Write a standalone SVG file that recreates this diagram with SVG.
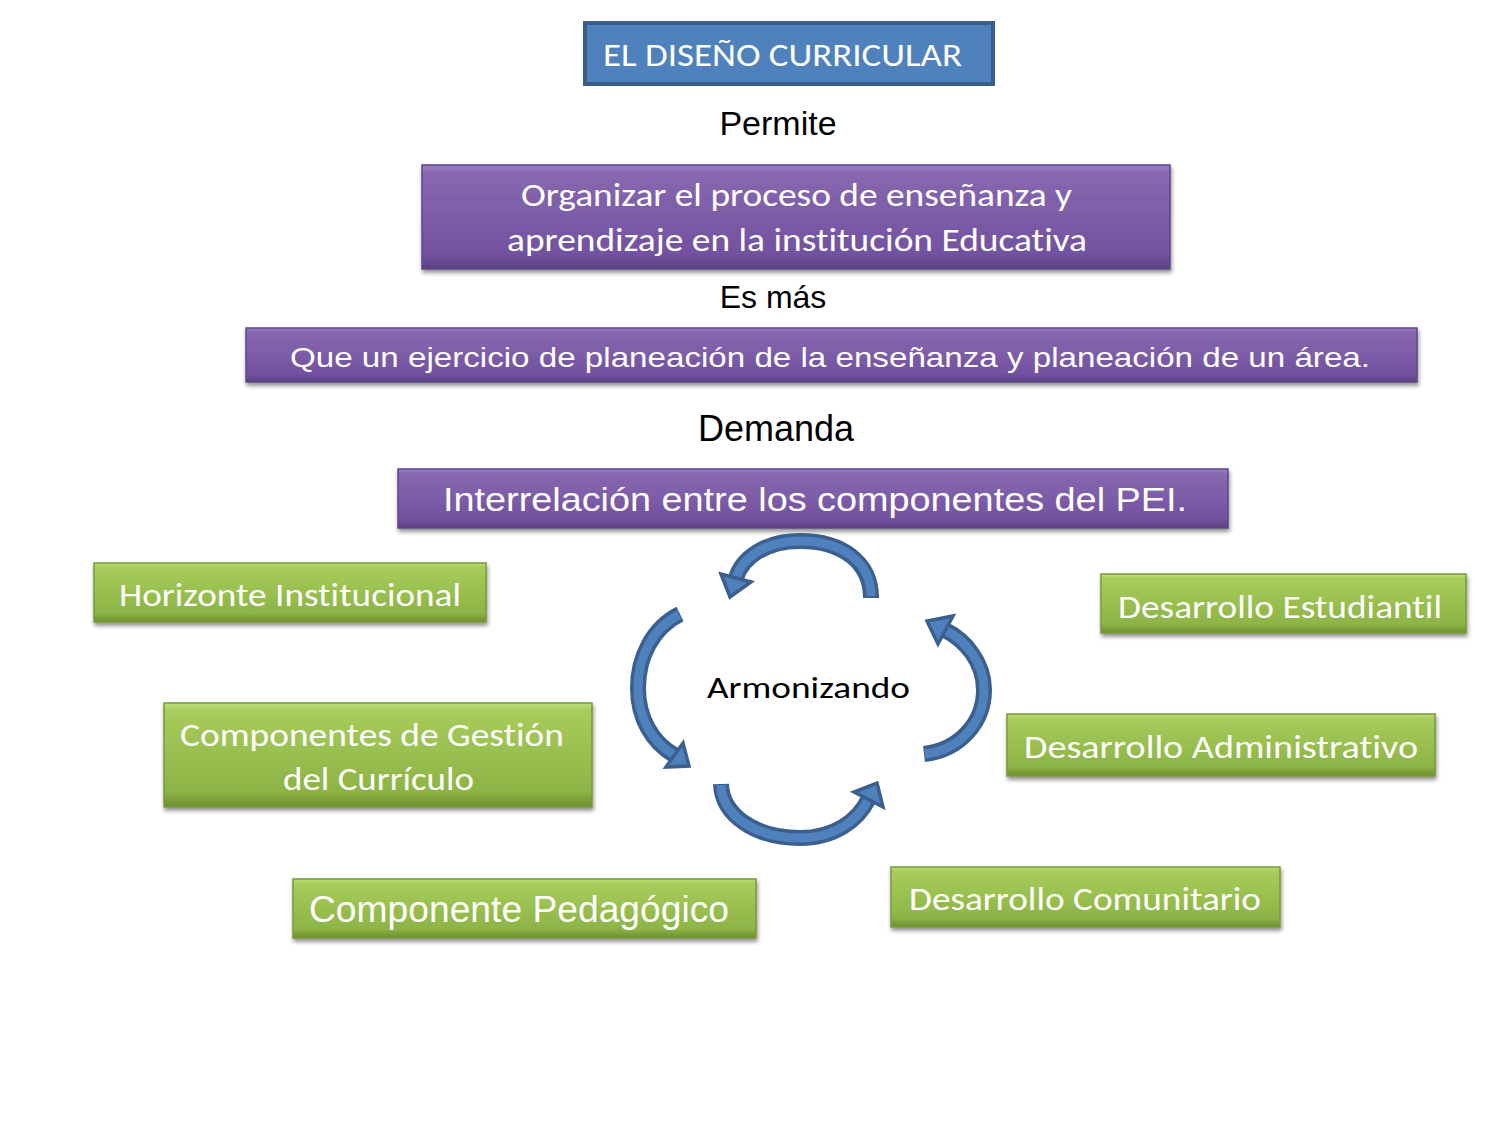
<svg xmlns="http://www.w3.org/2000/svg" width="1500" height="1125" viewBox="0 0 1500 1125">
<defs>
<linearGradient id="gp" x1="0" y1="0" x2="0" y2="1">
<stop offset="0" stop-color="#9a80c2"/><stop offset="0.08" stop-color="#8868b0"/><stop offset="0.85" stop-color="#7252a0"/><stop offset="1" stop-color="#5a4080"/>
</linearGradient>
<linearGradient id="gg" x1="0" y1="0" x2="0" y2="1">
<stop offset="0" stop-color="#bcdc78"/><stop offset="0.08" stop-color="#a8cc5c"/><stop offset="0.85" stop-color="#8cb445"/><stop offset="1" stop-color="#6c8e30"/>
</linearGradient>
<filter id="sh" x="-5%" y="-20%" width="110%" height="150%">
<feGaussianBlur in="SourceAlpha" stdDeviation="2"/><feOffset dx="1" dy="3"/>
<feComponentTransfer><feFuncA type="linear" slope="0.45"/></feComponentTransfer>
<feMerge><feMergeNode/><feMergeNode in="SourceGraphic"/></feMerge>
</filter>
<style>
text{font-variant-ligatures:none;font-feature-settings:"liga" 0,"clig" 0,"dlig" 0}
.p{fill:url(#gp);stroke:#5e4785;stroke-width:1.5;filter:url(#sh)}
.g{fill:url(#gg);stroke:#789a3a;stroke-width:1.5;filter:url(#sh)}
.c{font-family:Carlito,Lato,"Open Sans",sans-serif;fill:#fff}
.a{font-family:"Liberation Sans",Arial,sans-serif}
.w{fill:#fff}
.k{fill:#000}
.sd{fill:none;stroke:#3b5f8e;stroke-width:16;stroke-linecap:butt}
.sl{fill:none;stroke:#4f81bd;stroke-width:9;stroke-linecap:butt}
.hd{fill:#4f81bd;stroke:#3b5f8e;stroke-width:3.5;stroke-linejoin:miter}
</style>
</defs>
<rect width="1500" height="1125" fill="#fff"/>

<g id="title">
<rect x="585" y="23" width="408" height="61" fill="#4f81bd" stroke="#385d8a" stroke-width="4"/>
<text x="603" y="66" class="c" font-size="32" textLength="359" lengthAdjust="spacingAndGlyphs">EL DISEÑO CURRICULAR</text>
</g>

<g id="lbl-permite"><text x="778" y="135" class="a k" font-size="34" text-anchor="middle">Permite</text></g>

<g id="box-organizar">
<rect x="422" y="165" width="748" height="104" class="p"/>
<text x="521" y="206" class="c" font-size="32" textLength="551" lengthAdjust="spacingAndGlyphs">Organizar el proceso de enseñanza y</text>
<text x="507" y="251" class="c" font-size="32" textLength="580" lengthAdjust="spacingAndGlyphs">aprendizaje en la institución Educativa</text>
</g>

<g id="lbl-esmas"><text x="773" y="308" class="a k" font-size="32" text-anchor="middle">Es más</text></g>

<g id="box-que">
<rect x="246" y="328" width="1171" height="54" class="p"/>
<text x="290" y="367" class="a w" font-size="28" textLength="1080" lengthAdjust="spacingAndGlyphs">Que un ejercicio de planeación de la enseñanza y planeación de un área.</text>
</g>

<g id="lbl-demanda"><text x="776" y="441" class="a k" font-size="36" text-anchor="middle">Demanda</text></g>

<g id="box-inter">
<rect x="398" y="469" width="830" height="59" class="p"/>
<text x="443" y="511" class="a w" font-size="34" textLength="744" lengthAdjust="spacingAndGlyphs">Interrelación  entre los componentes del PEI.</text>
</g>

<g id="box-horizonte">
<rect x="94" y="563" width="392" height="59" class="g"/>
<text x="119" y="606" class="c" font-size="33" textLength="342" lengthAdjust="spacingAndGlyphs">Horizonte Institucional</text>
</g>

<g id="box-gestion">
<rect x="164" y="703" width="428" height="104" class="g"/>
<text x="180" y="746" class="c" font-size="33" textLength="384" lengthAdjust="spacingAndGlyphs">Componentes de Gestión</text>
<text x="283" y="790" class="c" font-size="33" textLength="191" lengthAdjust="spacingAndGlyphs">del Currículo</text>
</g>

<g id="box-pedagogico">
<rect x="293" y="879" width="463" height="59" class="g"/>
<text x="309" y="922" class="a w" font-size="36" textLength="420" lengthAdjust="spacingAndGlyphs">Componente Pedagógico</text>
</g>

<g id="box-estudiantil">
<rect x="1101" y="574" width="365" height="59" class="g"/>
<text x="1118" y="618" class="c" font-size="33" textLength="324" lengthAdjust="spacingAndGlyphs">Desarrollo Estudiantil</text>
</g>

<g id="box-administrativo">
<rect x="1007" y="714" width="428" height="62" class="g"/>
<text x="1024" y="758" class="c" font-size="33" textLength="394" lengthAdjust="spacingAndGlyphs">Desarrollo  Administrativo</text>
</g>

<g id="box-comunitario">
<rect x="891" y="867" width="389" height="60" class="g"/>
<text x="909" y="910" class="c" font-size="33" textLength="352" lengthAdjust="spacingAndGlyphs">Desarrollo Comunitario</text>
</g>

<g id="lbl-armonizando"><text x="707" y="698" font-family="Carlito,Lato,'Open Sans',sans-serif" font-size="31" fill="#000" textLength="203" lengthAdjust="spacingAndGlyphs">Armonizando</text></g>

<g id="connectors">
<g id="arrow-top">
<path class="sd" d="M871,598 C871,562 842,541 800,541 C765,541 742,558 736,578"/>
<path class="sl" d="M871,596 C871,562 842,541 800,541 C765,541 742,558 736,578"/>
<polygon class="hd" points="751,582 721,574 730,597"/>
</g>
<g id="arrow-left">
<path class="sd" d="M680,614 C652,628 638,658 638,688 C638,718 652,742 674,755"/>
<path class="sl" d="M679,615 C652,628 638,658 638,688 C638,718 652,742 674,755"/>
<polygon class="hd" points="666,767 683,743 689,766"/>
</g>
<g id="arrow-bottom">
<path class="sd" d="M721,784 C722,815 755,838 800,838 C835,838 858,820 868,800"/>
<path class="sl" d="M721,785 C722,815 755,838 800,838 C835,838 858,820 868,800"/>
<polygon class="hd" points="883,807 854,792 877,783"/>
</g>
<g id="arrow-right">
<path class="sd" d="M924,754 C960,750 984,722 984,690 C984,662 965,640 945,630"/>
<path class="sl" d="M925,754 C960,750 984,722 984,690 C984,662 965,640 945,630"/>
<polygon class="hd" points="953,616 938,644 927,621"/>
</g>
</g>
</svg>
